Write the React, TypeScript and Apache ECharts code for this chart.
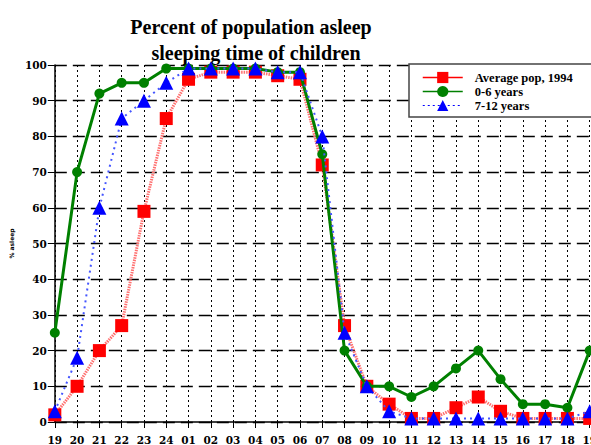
import React, { useEffect, useRef } from "react";
import * as echarts from "echarts";

const hours = ["19","20","21","22","23","24","01","02","03","04","05","06","07","08","09","10","11","12","13","14","15","16","17","18","19"];
const avgPop1994 = [2,10,20,27,59,85,96,98,98,98,97,96,72,27,10,5,1,1,4,7,3,1,1,1,1];
const age0to6 = [25,70,92,95,95,99,99,99,99,99,98,98,75,20,10,10,7,10,15,20,12,5,5,4,20];
const age7to12 = [3,18,60,85,90,95,99,99,99,99,98,98,80,25,10,3,1,1,1,1,1,1,1,1,3];
const yTicks = { min: 0, max: 100, interval: 10 };

export default function App() {
  const ref = useRef<HTMLDivElement>(null);
  useEffect(() => {
    if (!ref.current) return;
    const chart = echarts.init(ref.current, null, { renderer: "svg" });
    const tickFont = { fontFamily: "DejaVu Serif", fontWeight: "bold" as const, fontSize: 10.5, color: "#000" };
    chart.setOption({
      animation: false,
      backgroundColor: "#fff",
      graphic: [
        { type: "text", x: 251, y: 27, style: { text: "Percent of population asleep", font: 'bold 20px "Liberation Serif"', fill: "#000", align: "center", verticalAlign: "middle" } },
        { type: "text", x: 256, y: 53, style: { text: "sleeping time of children", font: 'bold 20px "Liberation Serif"', fill: "#000", align: "center", verticalAlign: "middle" } },
      ],
      grid: { left: 48, top: 65, right: 4.8, bottom: 22, containLabel: false },
      legend: {
        orient: "vertical",
        left: 409,
        top: 64,
        padding: [7, 30, 5, 13],
        itemGap: 1,
        itemWidth: 40,
        itemHeight: 14,
        backgroundColor: "#fff",
        borderColor: "#444",
        borderWidth: 1.5,
        borderRadius: 0,
        textStyle: { fontFamily: "Liberation Serif", fontWeight: "bold", fontSize: 12.5, color: "#000", padding: [0, 0, 0, 7] },
        data: [
          { name: "Average pop, 1994", lineStyle: { color: "#ff0000", width: 1.5, type: "solid" } },
          { name: "0-6 years", lineStyle: { color: "#008000", width: 1.5, type: "solid" } },
          { name: "7-12 years", lineStyle: { color: "#0000ff", width: 1.2, type: [2, 3] } },
        ],
      },
      xAxis: {
        type: "category",
        data: hours,
        boundaryGap: false,
        axisLine: { show: true, lineStyle: { color: "#000", width: 1.5 } },
        axisTick: { show: true, length: 6, lineStyle: { color: "#000", width: 1 } },
        axisLabel: { ...tickFont, margin: 12, interval: 0 },
        splitLine: { show: true, lineStyle: { color: "#000", width: 1, type: [2, 3] } },
      },
      yAxis: {
        type: "value",
        ...yTicks,
        name: "% asleep",
        nameLocation: "middle",
        nameRotate: 90,
        nameGap: 36,
        nameTextStyle: { fontFamily: "DejaVu Sans", fontWeight: "bold", fontSize: 6, color: "#000" },
        axisLine: { show: true, lineStyle: { color: "#000", width: 1.5 } },
        axisTick: { show: true, length: 7, lineStyle: { color: "#000", width: 1 } },
        axisLabel: { ...tickFont, margin: 8 },
        splitLine: { show: true, lineStyle: { color: "#000", width: 1.3, type: [12, 6] } },
      },
      series: [
        {
          name: "Average pop, 1994",
          type: "line",
          data: avgPop1994,
          symbol: "rect",
          symbolSize: 13,
          itemStyle: { color: "#ff0000" },
          lineStyle: { color: "#ff7070", width: 3, type: [1.5, 1] },
          z: 3,
        },
        {
          name: "0-6 years",
          type: "line",
          data: age0to6,
          symbol: "circle",
          symbolSize: 10,
          itemStyle: { color: "#008000" },
          lineStyle: { color: "#008000", width: 3, type: "solid" },
          z: 4,
        },
        {
          name: "7-12 years",
          type: "line",
          data: age7to12,
          symbol: "triangle",
          symbolSize: 14,
          itemStyle: { color: "#0000ff" },
          lineStyle: { color: "#4455ff", width: 2, type: [2, 4] },
          z: 5,
        },
      ],
    });
    return () => chart.dispose();
  }, []);
  return (
    <div style={{ position: "fixed", left: 0, top: 0, width: 591, height: 445, overflow: "hidden", background: "#fff" }}>
      <div ref={ref} style={{ width: 600, height: 445 }} />
    </div>
  );
}
